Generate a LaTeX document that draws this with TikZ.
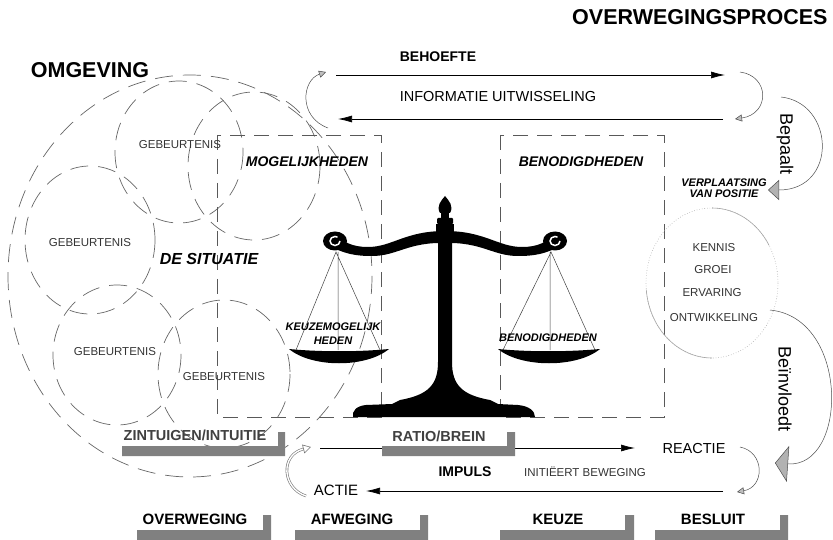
\documentclass[tikz,border=0pt]{standalone}
\usepackage{fontspec}
\setmainfont{Liberation Sans}
\usetikzlibrary{arrows.meta}

\begin{document}
\begin{tikzpicture}[x=1pt, y=-1pt,
    headtxt/.style={font=\fontsize{21.5}{24}\selectfont\bfseries},
    areatxt/.style={font=\fontsize{14}{16}\selectfont\bfseries\itshape},
    pantxt/.style={font=\fontsize{11}{14}\selectfont\bfseries\itshape, align=center},
    linetxt/.style={font=\fontsize{14.5}{17}\selectfont},
    smalltxt/.style={font=\fontsize{11.5}{13}\selectfont, text=black!80},
    sidetxt/.style={font=\fontsize{18}{20}\selectfont, rotate=-90},
    stagetxt/.style={font=\fontsize{15}{17}\selectfont\bfseries},
    sensetxt/.style={font=\fontsize{14.5}{17}\selectfont\bfseries, text=black!75},
    eventring/.style={draw=black!60, line width=0.7pt, dash pattern=on 18pt off 10pt},
    fieldbox/.style={draw=black!65, line width=0.7pt, dash pattern=on 15pt off 9pt},
    knowring/.style={draw=black!35, line width=0.6pt},
    flowarrow/.style={line width=0.7pt, -{Latex[length=14pt,width=7pt]}},
    turnarrow/.style={draw=black!70, line width=0.5pt, -{Triangle[length=7pt,width=7pt,fill=black!25]}},
    bigturn/.style={draw=black!70, line width=0.5pt},
    hollowturn/.style={draw=black!55, line width=0.6pt, double=white, double distance=1.4pt, -{Triangle[open,length=8pt,width=9pt]}},
    shadowbar/.style={fill=black!50}]

    \useasboundingbox (0,0) rectangle (833,540);

    % circles of the situation
    \draw[eventring] (190,276) ellipse [x radius=182, y radius=201];
    \draw[eventring] (179,152) ellipse [x radius=64, y radius=71];
    \draw[eventring] (254,166) ellipse [x radius=66, y radius=74];
    \draw[eventring] (90,240) ellipse [x radius=65, y radius=74];
    \draw[eventring] (117,355) ellipse [x radius=64, y radius=70];
    \draw[eventring] (224,374) ellipse [x radius=66, y radius=74];

    % dashed fields
    \draw[fieldbox] (217,135) rectangle (381,417);
    \draw[fieldbox] (500,135) rectangle (664,417);

    % circle of knowledge
    \draw[knowring, dotted] (712,283) ellipse [x radius=66, y radius=75];
    \draw[knowring] (712,208) arc[start angle=270, end angle=330, x radius=66, y radius=75];
    \draw[knowring] (712,358) arc[start angle=90, end angle=175, x radius=66, y radius=75];

    % the scale
    \fill (445,196) .. controls (449,201) and (454,206) .. (450,213) -- (440,213) .. controls (436,206) and (441,201) .. (445,196) -- cycle;
    \fill (441,212) rectangle (449,219);
    \fill[rounded corners=1pt] (437,218) rectangle (453,224);
    \fill (436,224) rectangle (454,234);
    \fill (445,231) .. controls (405,231) and (392,247) .. (368,247) .. controls (352,247) and (343,242) .. (336,234)
        -- (338,250) .. controls (350,255) and (360,256) .. (372,256) .. controls (397,256) and (408,242) .. (445,243) -- cycle;
    \fill (445,231) .. controls (485,231) and (498,247) .. (522,247) .. controls (538,247) and (547,242) .. (554,234)
        -- (552,250) .. controls (540,255) and (530,256) .. (518,256) .. controls (493,256) and (482,242) .. (445,243) -- cycle;
    \fill (335,241) ellipse [x radius=12, y radius=9.5];
    \fill (555,241) ellipse [x radius=12, y radius=9.5];
    \draw[white, line width=1.5pt] (340,241) arc[start angle=0, end angle=300, x radius=5, y radius=4.5];
    \draw[white, line width=1.5pt] (560,241) arc[start angle=0, end angle=300, x radius=5, y radius=4.5];
    \draw[black!75, line width=0.5pt] (296,350) -- (336,252) -- (380,350) (338,252) -- (338,350);
    \draw[black!75, line width=0.5pt] (503,350) -- (551,252) -- (595,350) (550,252) -- (550,350);
    \fill (289,349) .. controls (320,352) and (358,352) .. (389,349) .. controls (366,368) and (312,368) .. (289,349) -- cycle;
    \fill (498,349) .. controls (529,352) and (567,352) .. (600,349) .. controls (577,368) and (521,368) .. (498,349) -- cycle;
    \fill (438,234) -- (438,362) .. controls (438,385) and (428,395) .. (400,400) -- (392,404) -- (366,405) .. controls (356,406) and (352,411) .. (353,417)
        -- (535,417) .. controls (535,411) and (529,406) .. (518,405) -- (498,404) -- (490,400) .. controls (462,395) and (452,385) .. (452,362) -- (452,234) -- cycle;

    % shadows under the stages
    \fill[shadowbar] (122,446) rectangle (285,456) (278,432) rectangle (285,456);
    \fill[shadowbar] (137,530) rectangle (271,540) (263,515) rectangle (271,540);
    \fill[shadowbar] (295,530) rectangle (428,540) (420,515) rectangle (428,540);
    \fill[shadowbar] (500,530) rectangle (634,540) (625,515) rectangle (634,540);
    \fill[shadowbar] (655,530) rectangle (788,540) (780,515) rectangle (788,540);

    % nodes
    \node[headtxt, anchor=east] (process) at (831,17) {OVERWEGINGSPROCES};
    \node[headtxt] (surroundings) at (90,70) {OMGEVING};
    \node[font=\fontsize{14}{16}\selectfont\bfseries] (need) at (438,57) {BEHOEFTE};
    \node[linetxt] (exchange) at (498,97) {INFORMATIE UITWISSELING};
    \node[areatxt] (options) at (307,162) {MOGELIJKHEDEN};
    \node[areatxt] (needs) at (581,162) {BENODIGDHEDEN};
    \node[font=\fontsize{16}{18}\selectfont\bfseries\itshape] (situation) at (209,259) {DE SITUATIE};
    \node[smalltxt] (eventA) at (180,145) {GEBEURTENIS};
    \node[smalltxt] (eventB) at (90,243) {GEBEURTENIS};
    \node[smalltxt] (eventC) at (115,352) {GEBEURTENIS};
    \node[smalltxt] (eventD) at (224,377) {GEBEURTENIS};
    \node[pantxt] (leftpan) at (333,334) {KEUZEMOGELIJK\\HEDEN};
    \node[pantxt] (rightpan) at (548,338) {BENODIGDHEDEN};
    \node[pantxt, font=\fontsize{11}{11.5}\selectfont\bfseries\itshape] (shift) at (724,188) {VERPLAATSING\\VAN POSITIE};
    \node[sidetxt] (determines) at (785,144) {Bepaalt};
    \node[sidetxt] (influences) at (785,389) {Beïnvloedt};
    \node[smalltxt] (knowledge) at (714,248) {KENNIS};
    \node[smalltxt] (growth) at (713,270) {GROEI};
    \node[smalltxt] (experience) at (712,293) {ERVARING};
    \node[smalltxt] (development) at (714,318) {ONTWIKKELING};
    \node[sensetxt] (senses) at (195,435) {ZINTUIGEN/INTUITIE};
    \node[linetxt] (reaction) at (694,449) {REACTIE};
    \node[font=\fontsize{14}{16}\selectfont\bfseries] (impulse) at (465,472) {IMPULS};
    \node[smalltxt] (movement) at (585,472) {INITIËERT BEWEGING};
    \node[linetxt, font=\fontsize{15}{17}\selectfont] (action) at (336,490) {ACTIE};
    \node[stagetxt] (weighing) at (195,519) {OVERWEGING};
    \node[stagetxt] (balancing) at (352,519) {AFWEGING};
    \node[stagetxt] (choice) at (558,519) {KEUZE};
    \node[stagetxt] (decision) at (713,519) {BESLUIT};

    % connectors
    \coordinate (needL) at (336,75);
    \coordinate (needR) at (725,75);
    \coordinate (exchangeR) at (723,119);
    \coordinate (exchangeL) at (338,119);
    \draw[flowarrow] (needL) -- (needR);
    \draw[flowarrow] (exchangeR) -- (exchangeL);
    \coordinate (loopA) at (328,128);
    \coordinate (loopB) at (326,72);
    \draw[turnarrow] (loopA) .. controls (298,117) and (302,80) .. (loopB);
    \coordinate (loopC) at (740,72);
    \coordinate (loopD) at (735,119);
    \draw[turnarrow] (loopC) .. controls (770,76) and (770,114) .. (loopD);
    \coordinate (determinesA) at (781,97);
    \coordinate (determinesB) at (768,190);
    \draw[bigturn, -{Triangle[length=11pt,width=20pt,fill=black!30]}] (determinesA) .. controls (835,103) and (838,190) .. (determinesB);
    \coordinate (influencesA) at (770,310);
    \coordinate (influencesB) at (775,463);
    \draw[bigturn, -{Triangle[length=13pt,width=36pt,fill=black!30]}] (influencesA) .. controls (850,318) and (848,468) .. (influencesB);

    \coordinate (impulseL) at (320,448);
    \coordinate (impulseR) at (635,448);
    \draw[flowarrow] (impulseL) -- (impulseR);
    \coordinate (reactionA) at (740,447);
    \coordinate (reactionB) at (737,492);
    \draw[turnarrow] (reactionA) .. controls (765,452) and (765,487) .. (reactionB);
    \coordinate (actionR) at (723,491);
    \coordinate (actionL) at (366,491);
    \draw[flowarrow] (actionR) -- (actionL);
    \coordinate (curlA) at (306,496);
    \coordinate (curlB) at (311,447);
    \draw[hollowturn] (curlA) .. controls (282,488) and (280,455) .. (curlB);

    % bar over the impulse line
    \fill[shadowbar] (382,446) rectangle (515,456) (507,432) rectangle (515,456);
    \node[sensetxt] (reason) at (439,436) {RATIO/BREIN};
\end{tikzpicture}
\end{document}
